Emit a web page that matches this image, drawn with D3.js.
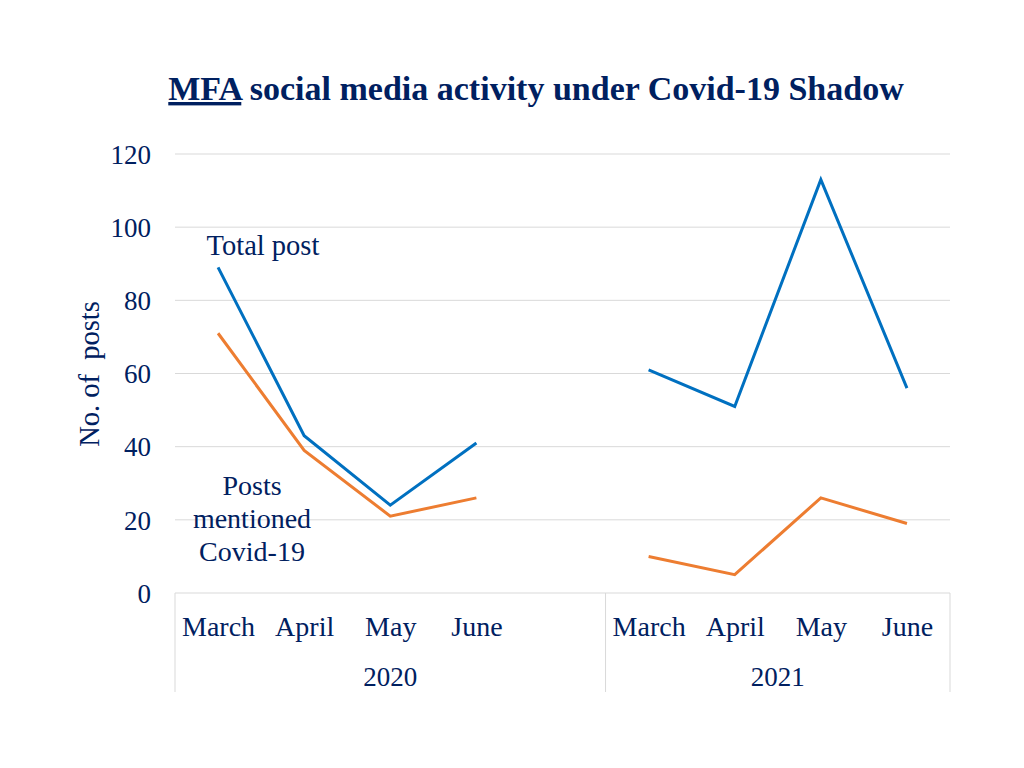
<!DOCTYPE html>
<html>
<head>
<meta charset="utf-8">
<script src="https://cdn.jsdelivr.net/npm/d3@7"></script>
<style>
  html, body { margin: 0; padding: 0; background: #fff; }
  svg { display: block; }
</style>
</head>
<body>
<svg id="chart" width="1024" height="768"></svg>
<script>
// ---- data ----
const years = ["2020", "2021"];
const months = ["March", "April", "May", "June"];
const totalPost2020 = [89, 43, 24, 41];
const totalPost2021 = [61, 51, 113, 56];
const covidPost2020 = [71, 39, 21, 26];
const covidPost2021 = [10, 5, 26, 19];
const yTicks = [0, 20, 40, 60, 80, 100, 120];

// ---- layout ----
const textColor = "#002060";
const font = "'Liberation Serif', 'Times New Roman', serif";
const plotLeft = 175, plotRight = 950, plotTop = 154, plotBottom = 593;

const svg = d3.select("#chart");

// category keys: 2020 months + spacer, 2021 months
const keys = [];
months.forEach(m => keys.push("2020|" + m));
keys.push("2020|gap");
months.forEach(m => keys.push("2021|" + m));

const x = d3.scalePoint().domain(keys).range([plotLeft, plotRight]).padding(0.5);
const step = x.step();
const y = d3.scaleLinear().domain([0, 120]).range([plotBottom, plotTop]);

// gridlines
svg.append("g").selectAll("line").data(yTicks).join("line")
  .attr("x1", plotLeft).attr("x2", plotRight)
  .attr("y1", d => y(d)).attr("y2", d => y(d))
  .attr("stroke", "#D9D9D9").attr("stroke-width", 1);

// y axis labels
const yAxis = d3.axisLeft(y).tickValues(yTicks).tickSize(0).tickPadding(0);
const yg = svg.append("g").attr("transform", `translate(151,0)`).call(yAxis);
yg.select(".domain").remove();
yg.selectAll("text")
  .attr("font-family", font).attr("font-size", 27).attr("fill", textColor)
  .attr("dy", "0.34em");

// y title
svg.append("text")
  .attr("transform", `translate(99,${374}) rotate(-90)`)
  .attr("text-anchor", "middle")
  .attr("font-family", font).attr("font-size", 28.5).attr("fill", textColor)
  .style("white-space", "pre")
  .text("No. of  posts");

// x axis group dividers
const groupEdges = [plotLeft, x("2020|gap") + step / 2, plotRight];
svg.append("g").selectAll("line").data(groupEdges).join("line")
  .attr("x1", d => d).attr("x2", d => d)
  .attr("y1", plotBottom).attr("y2", 692)
  .attr("stroke", "#D9D9D9").attr("stroke-width", 1);

// month labels
const xAxis = d3.axisBottom(x).tickValues(keys.filter(k => !k.endsWith("gap")))
  .tickSize(0).tickPadding(0).tickFormat(k => k.split("|")[1]);
const xg = svg.append("g").attr("transform", `translate(0,${plotBottom})`).call(xAxis);
xg.select(".domain").remove();
xg.selectAll("text")
  .attr("font-family", font).attr("font-size", 28).attr("fill", textColor)
  .attr("y", 43).attr("dy", 0);

// year labels
svg.append("g").selectAll("text").data(years).join("text")
  .attr("x", (d, i) => (groupEdges[i] + groupEdges[i + 1]) / 2)
  .attr("y", 686)
  .attr("text-anchor", "middle")
  .attr("font-family", font).attr("font-size", 27).attr("fill", textColor)
  .text(d => d);

// lines
const line = d3.line().x(d => x(d.k)).y(d => y(d.v));
function seriesPts(year, vals) { return vals.map((v, i) => ({ k: year + "|" + months[i], v })); }
const series = [
  { vals: [totalPost2020, totalPost2021], color: "#0070C0" },
  { vals: [covidPost2020, covidPost2021], color: "#ED7D31" }
];
series.forEach(s => {
  years.forEach((yr, i) => {
    svg.append("path")
      .datum(seriesPts(yr, s.vals[i]))
      .attr("d", line)
      .attr("fill", "none")
      .attr("stroke", s.color)
      .attr("stroke-width", 3)
      .attr("stroke-linejoin", "miter");
  });
});

// annotations
svg.append("text")
  .attr("x", 263).attr("y", 255).attr("text-anchor", "middle")
  .attr("font-family", font).attr("font-size", 28.5).attr("fill", textColor)
  .text("Total post");
const covLabel = svg.append("text")
  .attr("text-anchor", "middle")
  .attr("font-family", font).attr("font-size", 28).attr("fill", textColor);
["Posts", "mentioned", "Covid-19"].forEach((t, i) => {
  covLabel.append("tspan").attr("x", 252).attr("y", 495 + i * 33).text(t);
});

// title
const title = svg.append("text")
  .attr("x", 536).attr("y", 100).attr("text-anchor", "middle")
  .attr("font-family", font).attr("font-size", 34).attr("font-weight", "bold")
  .attr("fill", textColor);
title.append("tspan").attr("text-decoration", "underline").text("MFA");
title.append("tspan").text(" social media activity under Covid-19 Shadow");
</script>
</body>
</html>
